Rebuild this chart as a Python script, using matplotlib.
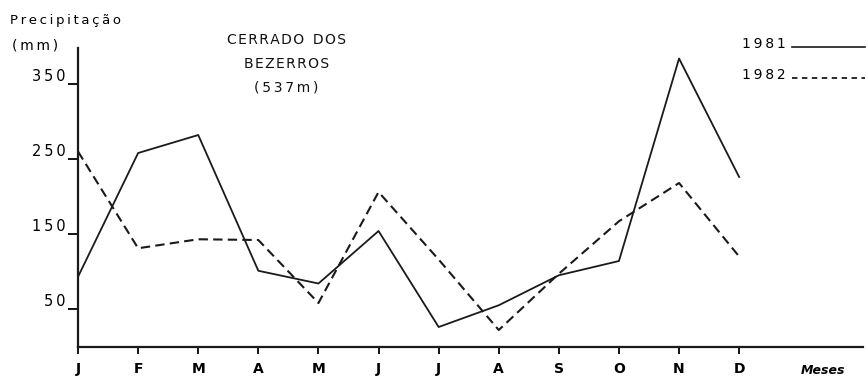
import matplotlib.pyplot as plt
import numpy as np

# precipitacao mensal (mm)
meses = ['J', 'F', 'M', 'A', 'M', 'J', 'J', 'A', 'S', 'O', 'N', 'D']
chuva_1981 = [93, 258, 282, 101, 84, 154, 26, 55, 95, 114, 384, 226]
chuva_1982 = [260, 131, 143, 142, 58, 206, 116, 22, 97, 167, 218, 120]
yticks = [50, 150, 250, 350]

plt.rcParams['font.family'] = ['DejaVu Sans']


def espacar(s, sep='\u2009'):
    # letras afastadas, como no letreiro original
    return sep.join(s)


fig = plt.figure(figsize=(8.68, 3.86), dpi=100)
ax = fig.add_axes([0.0899, 0.1023, 0.9043, 0.7733])

x = np.arange(len(meses))
ax.plot(x, chuva_1981, color='#1a1a1a', lw=1.3)
ax.plot(x, chuva_1982, color='#1a1a1a', lw=1.5, dashes=(4.5, 2.5))

ax.set_xlim(0, 13.06)
ax.set_ylim(0, 398)

for s in ['top', 'right']:
    ax.spines[s].set_visible(False)
for s in ['left', 'bottom']:
    ax.spines[s].set_linewidth(1.6)
    ax.spines[s].set_color('#1a1a1a')

ax.set_xticks(x)
ax.set_xticklabels(meses, fontsize=10, fontweight='bold')
ax.set_yticks(yticks)
ax.set_yticklabels([espacar(str(v)) for v in yticks], fontsize=10.5)
ax.tick_params(axis='x', direction='out', length=5, width=1.3, pad=6)
ax.tick_params(axis='y', direction='out', length=7, width=1.3, pad=2)
for lab in ax.get_yticklabels():
    lab.set_verticalalignment('bottom')

# rotulos
fig.text(0.012, 0.937, espacar('Precipitação'), fontsize=9.5)
fig.text(0.014, 0.872, espacar('(mm)'), fontsize=10)
fig.text(0.330, 0.896, espacar('CERRADO', '\u200a') + '  ' + espacar('DOS', '\u200a'),
         fontsize=10, ha='center', va='center', color='#111111')
fig.text(0.330, 0.834, espacar('BEZERROS', '\u200a'), fontsize=10, ha='center',
         va='center', color='#111111')
fig.text(0.330, 0.773, espacar('(537m)'), fontsize=10, ha='center', va='center',
         color='#111111')
fig.text(0.948, 0.030, 'Meses', fontsize=9, fontweight='bold', style='italic',
         ha='center')

# legenda
fig.text(0.855, 0.875, espacar('1981'), fontsize=10, va='baseline')
fig.text(0.855, 0.795, espacar('1982'), fontsize=10, va='baseline')
fig.add_artist(plt.Line2D([0.912, 0.997], [0.877, 0.877], color='#1a1a1a', lw=1.2))
fig.add_artist(plt.Line2D([0.912, 0.997], [0.797, 0.797], color='#1a1a1a', lw=1.3,
                          dashes=(3, 2.5)))

fig.savefig('out.png', dpi=100)
